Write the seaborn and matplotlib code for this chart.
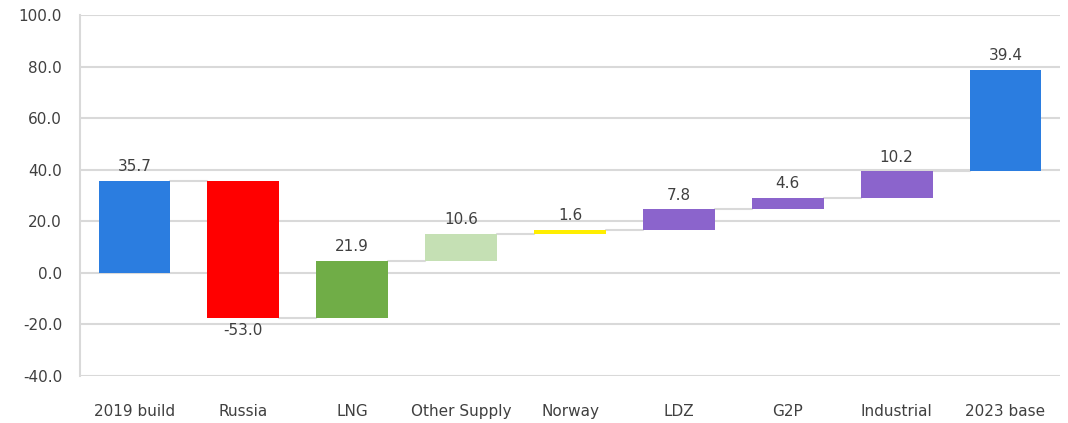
import numpy as np
import pandas as pd
import matplotlib
matplotlib.use("Agg")
import matplotlib.pyplot as plt
import seaborn as sns

categories = ["2019 build", "Russia", "LNG", "Other Supply", "Norway", "LDZ", "G2P", "Industrial", "2023 base"]
changes = [35.7, -53.0, 21.9, 10.6, 1.6, 7.8, 4.6, 10.2, 39.4]
labels = ["35.7", "-53.0", "21.9", "10.6", "1.6", "7.8", "4.6", "10.2", "39.4"]
colors = ["#2b7de0", "#ff0000", "#70ad47", "#c5e0b4", "#ffee00", "#8b64cc", "#8b64cc", "#8b64cc", "#2b7de0"]
yticks = [-40, -20, 0, 20, 40, 60, 80, 100]

# running totals -> bottoms
bottoms = []
total = 0.0
for v in changes:
    bottoms.append(total)
    total += v
bottoms = np.array(bottoms)
heights = np.array(changes)

sns.set_style("white")
plt.rcParams["font.family"] = ["DejaVu Sans"]
text_color = "#404040"

fig = plt.figure(figsize=(10.68, 4.23), dpi=100)
ax = fig.add_axes([0.075, 0.111, 0.9175, 0.8535])

df = pd.DataFrame({"cat": categories, "h": heights})
sns.barplot(data=df, x="cat", y="h", bottom=bottoms, width=0.66, ax=ax,
            color="#2b7de0", errorbar=None, zorder=3)
for p, c in zip(ax.patches, colors):
    p.set_facecolor(c)
    p.set_edgecolor("none")

# connectors
tops = bottoms + heights
for i in range(len(categories) - 1):
    y = tops[i]
    ax.plot([i + 0.33, i + 1 - 0.33], [y, y], color="#d9d9d9", lw=1.5, zorder=2)

# labels
for i, (b, h, lab) in enumerate(zip(bottoms, heights, labels)):
    if h >= 0:
        ax.text(i, b + h + 2.6, lab, ha="center", va="bottom", fontsize=11, color=text_color)
    else:
        ax.text(i, b + h - 2.2, lab, ha="center", va="top", fontsize=11, color=text_color)

ax.set_ylim(-40, 100)
ax.set_xlim(-0.5, len(categories) - 0.5)
ax.set_yticks(yticks)
ax.set_yticklabels([f"{t:.1f}" for t in yticks], fontsize=11, color=text_color)
ax.set_xticks(range(len(categories)))
ax.set_xticklabels(categories, fontsize=11, color=text_color)
ax.tick_params(axis="x", length=0, pad=20)
ax.tick_params(axis="y", length=0, pad=13)
ax.set_xlabel("")
ax.set_ylabel("")
for t in yticks:
    ax.axhline(t, color="#d9d9d9", lw=1.5, zorder=1)
for s in ["top", "right", "bottom"]:
    ax.spines[s].set_visible(False)
ax.spines["left"].set_color("#d9d9d9")
ax.spines["left"].set_linewidth(1.5)
ax.spines["left"].set_zorder(1)

fig.savefig("out.png", dpi=100)
